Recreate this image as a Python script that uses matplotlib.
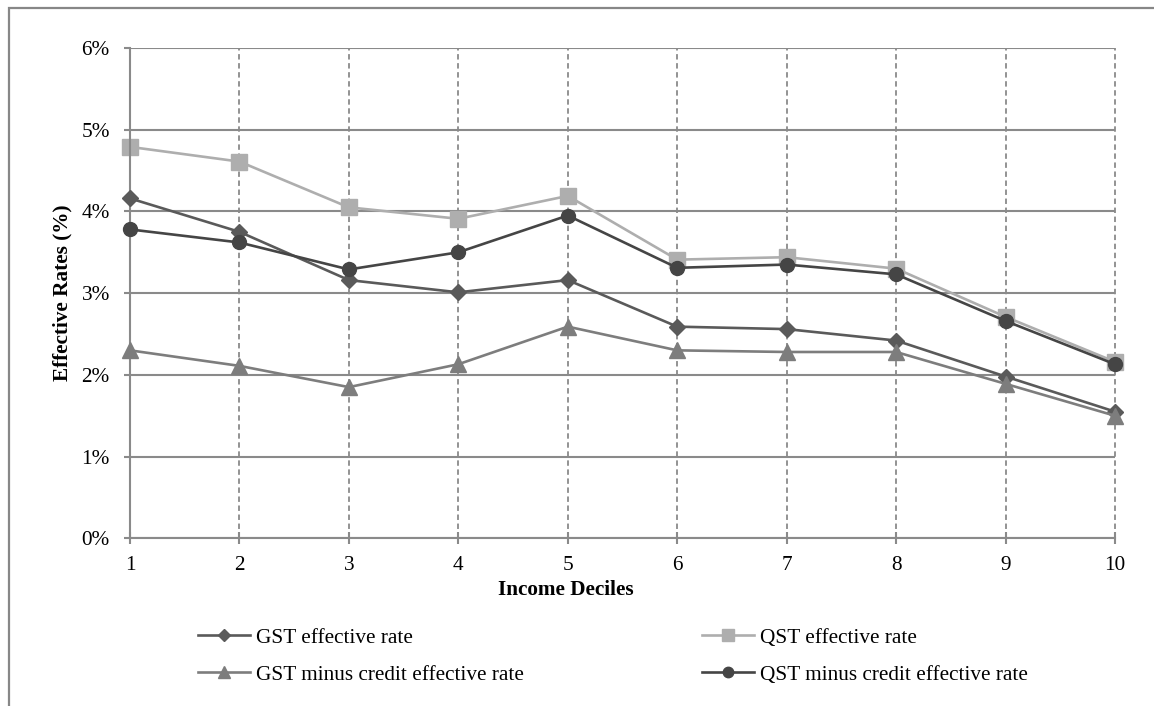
import matplotlib
matplotlib.use("Agg")
import matplotlib.pyplot as plt
from matplotlib.patches import Rectangle
from matplotlib.ticker import FuncFormatter

plt.rcParams['font.family'] = ['Liberation Serif', 'DejaVu Serif']

deciles = [1, 2, 3, 4, 5, 6, 7, 8, 9, 10]
gst = [4.16, 3.75, 3.16, 3.01, 3.16, 2.59, 2.56, 2.42, 1.98, 1.55]
qst = [4.79, 4.61, 4.05, 3.91, 4.19, 3.41, 3.44, 3.30, 2.71, 2.16]
gst_credit = [2.30, 2.11, 1.85, 2.13, 2.59, 2.30, 2.28, 2.28, 1.89, 1.50]
qst_credit = [3.78, 3.62, 3.29, 3.50, 3.95, 3.31, 3.35, 3.23, 2.66, 2.13]
yticks = [0, 1, 2, 3, 4, 5, 6]

FS = 15.3
fig = plt.figure(figsize=(11.54, 7.06), dpi=100)
ax = fig.add_axes([130/1154, (706-538.3)/706, 985/1154, (538.3-48)/706])

# outer border (left and top visible)
fig.patches.append(Rectangle((8.5/1154, -0.05), 1.2, (706-8.5)/706 + 0.05,
                             transform=fig.transFigure, fill=False,
                             edgecolor='#878787', linewidth=1.6))

grid_c = '#8a8a8a'
ax.set_xlim(1, 10)
ax.set_ylim(0, 6)
ax.set_xticks(deciles)
ax.set_yticks(yticks)
ax.yaxis.set_major_formatter(FuncFormatter(lambda v, p: f"{int(v)}%"))
ax.grid(axis='y', color=grid_c, linewidth=1.5, linestyle='-')
ax.grid(axis='x', color=grid_c, linewidth=1.3, linestyle=(0, (3, 2)))
for gl in ax.xaxis.get_gridlines():
    gl.set_clip_on(False)
ax.set_axisbelow(True)
for s in ['top', 'right']:
    ax.spines[s].set_visible(False)
for s in ['left', 'bottom']:
    ax.spines[s].set_color(grid_c)
    ax.spines[s].set_linewidth(1.5)
ax.tick_params(axis='y', direction='out', length=4.5, width=1.5, color=grid_c,
               labelsize=FS, pad=10)
ax.tick_params(axis='x', direction='inout', length=9, width=1.5, color=grid_c,
               labelsize=FS, pad=8.5)

lw = 1.9
l1, = ax.plot(deciles, gst, color='#5a5a5a', lw=lw, marker='D', markersize=8.5,
              label='GST effective rate', clip_on=False, zorder=3)
l2, = ax.plot(deciles, qst, color='#aeaeae', lw=lw, marker='s', markersize=11,
              label='QST effective rate', clip_on=False, zorder=2)
l3, = ax.plot(deciles, gst_credit, color='#7d7d7d', lw=lw, marker='^', markersize=11,
              label='GST minus credit effective rate', clip_on=False, zorder=3)
l4, = ax.plot(deciles, qst_credit, color='#454545', lw=lw, marker='o', markersize=10,
              label='QST minus credit effective rate', clip_on=False, zorder=4)

ax.set_ylabel('Effective Rates (%)', fontsize=FS, fontweight='bold')
ax.yaxis.set_label_coords(-0.058, 0.5)
ax.text(4.98, -(590 - 538.3) / 490.3, 'Income Deciles',
        transform=ax.get_xaxis_transform(),
        ha='center', va='center', fontsize=FS, fontweight='bold')

leg = fig.legend(handles=[l1, l3, l2, l4], ncol=2, frameon=False,
                 loc='upper left', bbox_to_anchor=(198/1154, (706-628)/706),
                 borderaxespad=0, borderpad=0, fontsize=FS,
                 handlelength=2.45, handletextpad=0.28, columnspacing=8.4,
                 labelspacing=0.8, markerscale=0.75)

fig.savefig('out.png', dpi=100)
